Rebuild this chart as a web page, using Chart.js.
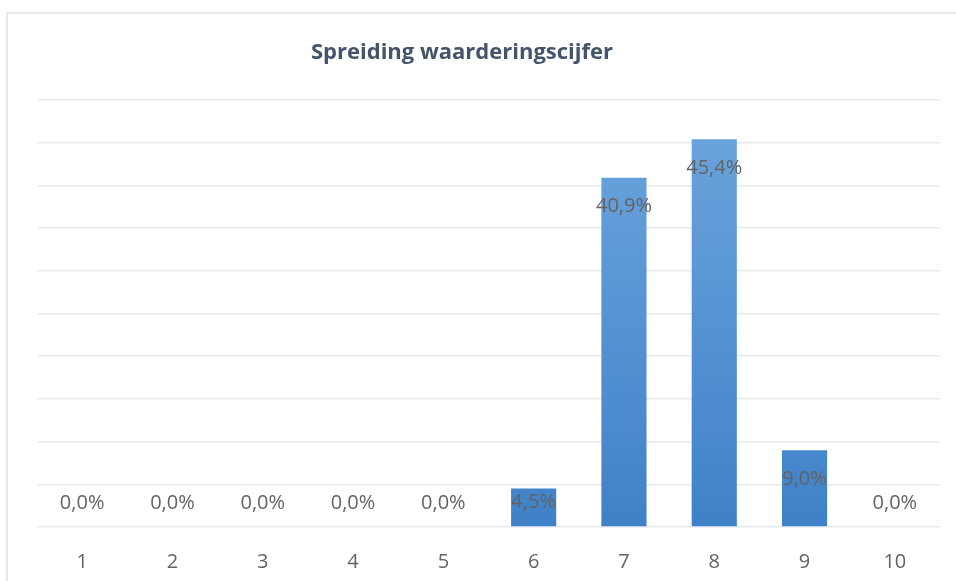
<!DOCTYPE html>
<html>
<head>
<meta charset="utf-8">
<script src="https://cdn.jsdelivr.net/npm/chart.js@4"></script>
<style>
  html, body { margin: 0; padding: 0; background: #ffffff; }
  #wrap { position: relative; width: 956px; height: 581px; overflow: hidden; }
  #frame { position: absolute; left: 6px; top: 12px; width: 1000px; height: 600px;
           border-left: 2px solid #e4e7ed; border-top: 2px solid #e4e7ed; box-sizing: border-box; }
  canvas { position: absolute; left: 0; top: 0; }
</style>
</head>
<body>
<div id="wrap">
  <div id="frame"></div>
  <canvas id="c" width="956" height="581"></canvas>
</div>
<script>
const titleText = "Spreiding waarderingscijfer";
const categories = ["1", "2", "3", "4", "5", "6", "7", "8", "9", "10"];
const percentages = [0.0, 0.0, 0.0, 0.0, 0.0, 4.5, 40.9, 45.4, 9.0, 0.0];

function fmt(v) { return v.toFixed(1).replace('.', ',') + '%'; }

const labelPlugin = {
  id: 'barLabels',
  afterDatasetsDraw(chart) {
    const ctx = chart.ctx;
    const meta = chart.getDatasetMeta(0);
    ctx.save();
    ctx.font = '20px "Open Sans"';
    ctx.fillStyle = '#636363';
    ctx.textAlign = 'center';
    ctx.textBaseline = 'middle';
    meta.data.forEach((bar, i) => {
      const y = Math.min(bar.y + 29, bar.base - 24);
      ctx.fillText(fmt(percentages[i]), bar.x, y);
    });
    // title
    ctx.font = 'bold 22px "Open Sans"';
    ctx.fillStyle = '#44546a';
    ctx.fillText(titleText, 462, 53);
    ctx.restore();
  }
};

new Chart(document.getElementById('c'), {
  type: 'bar',
  data: {
    labels: categories,
    datasets: [{
      data: percentages,
      backgroundColor(context) {
        const chart = context.chart;
        const area = chart.chartArea;
        if (!area) return '#5b9bd5';
        const g = chart.ctx.createLinearGradient(0, area.top, 0, area.bottom);
        g.addColorStop(0, '#6ea6de');
        g.addColorStop(1, '#3f81c8');
        return g;
      },
      borderWidth: 0,
      barPercentage: 0.5,
      categoryPercentage: 1.0
    }]
  },
  options: {
    responsive: false,
    animation: false,
    layout: { padding: { left: 37, right: 16, top: 100, bottom: 12 } },
    plugins: {
      legend: { display: false },
      tooltip: { enabled: false },
      title: { display: false }
    },
    scales: {
      x: {
        grid: { display: false, drawTicks: false },
        border: { display: false },
        ticks: { color: '#636363', font: { family: '"Open Sans"', size: 20 }, padding: 23, maxRotation: 0 },
        afterFit(scale) { scale.height = 42; }
      },
      y: {
        min: 0, max: 50,
        ticks: { display: false, stepSize: 5 },
        grid: { color: '#e6e9ee', lineWidth: 1.5, drawTicks: false },
        border: { display: false }
      }
    }
  },
  plugins: [labelPlugin]
});
</script>
</body>
</html>
